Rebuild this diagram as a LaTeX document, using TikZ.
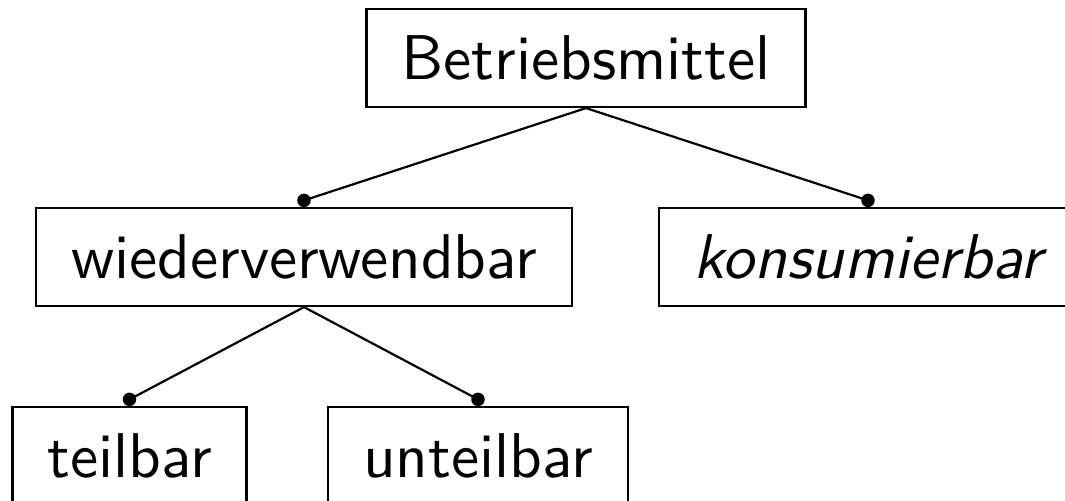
\documentclass[tikz,border=0pt]{standalone}
\usepackage{fontspec}
\setsansfont{lmsans10-regular.otf}[ItalicFont=lmsans10-oblique.otf]

\begin{document}
\begin{tikzpicture}[
  box/.style={draw,line width=1.25pt,inner xsep=0.7cm,minimum height=1.96cm,font=\sffamily\fontsize{36pt}{42pt}\selectfont},
  edge/.style={line width=1.25pt}]
  \useasboundingbox (0,0) rectangle (21.3,10.02);
  % tree nodes
  \node[box] (mittel) at (11.72,8.86) {Betriebsmittel};
  \node[box] (wieder) at (6.08,4.88) {wiederverwendbar};
  \node[box] (konsum) at (17.36,4.88) {\itshape konsumierbar};
  \node[box] (teil) at (2.59,0.90) {teilbar};
  \node[box] (unteil) at (9.56,0.90) {unteilbar};
  % edges with dots
  \foreach \p/\c in {mittel/wieder, mittel/konsum, wieder/teil, wieder/unteil} {
    \draw[edge] (\p.south) -- ([yshift=0.13cm]\c.north) coordinate (\c-dot);
    \fill (\c-dot) circle[radius=0.135cm];
  }
\end{tikzpicture}
\end{document}
